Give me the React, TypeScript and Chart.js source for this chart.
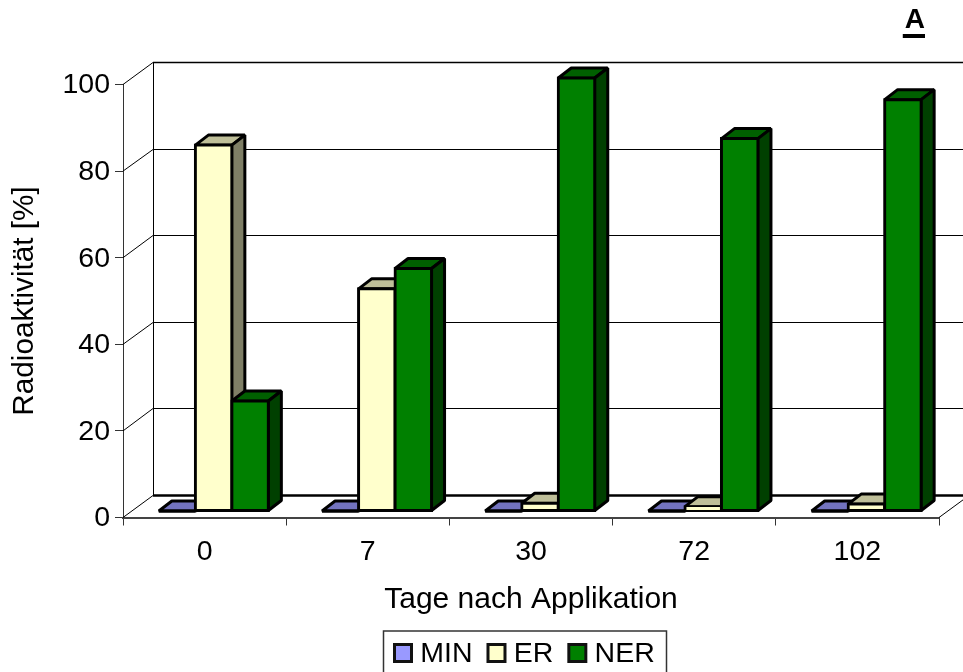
import React, { useEffect, useRef } from "react";
import { Chart, registerables } from "chart.js";

Chart.register(...registerables);

const FONT = "'Liberation Sans', Arial, sans-serif";

const categories = ["0", "7", "30", "72", "102"];
const minValues = [0, 0, 0, 0, 0];
const erValues = [84.5, 51.3, 1.8, 1, 1.6];
const nerValues = [25.4, 56, 100, 86, 95];
const seriesNames = ["MIN", "ER", "NER"];
const frontColors = ["#9999FF", "#FFFFCC", "#008000"];
const topColors = ["#7373BF", "#BFBF99", "#006000"];
const sideColors = ["#4D4D80", "#7F7F66", "#004000"];
const xTitle = "Tage nach Applikation";
const yTitle = "Radioaktivität [%]";
const panelLabel = "A";

const WALL_DX = 30;
const WALL_DY = -22;
const BAR_DX = 9;
const BAR_DY = -6.5;
const DEPTH_DX = 13;
const DEPTH_DY = -10;
const LEGEND_SIZE = 28.5;
const LEGEND_GAP = 14;

function line(ctx: any, x1: number, y1: number, x2: number, y2: number, w: number, color: string) {
  ctx.beginPath();
  ctx.moveTo(x1, y1);
  ctx.lineTo(x2, y2);
  ctx.lineWidth = w;
  ctx.strokeStyle = color;
  ctx.stroke();
}

function poly(ctx: any, pts: number[][], fill: string) {
  ctx.beginPath();
  pts.forEach((p, i) => (i ? ctx.lineTo(p[0], p[1]) : ctx.moveTo(p[0], p[1])));
  ctx.closePath();
  ctx.fillStyle = fill;
  ctx.fill();
  ctx.lineWidth = 3;
  ctx.lineJoin = "bevel";
  ctx.strokeStyle = "#000";
  ctx.stroke();
}

const box3d = {
  id: "box3d",
  afterLayout(chart: any) {
    const lg = chart.legend;
    if (lg) {
      lg.left = 393 - LEGEND_GAP;
      lg.right = 720;
      lg.top = 640 - LEGEND_GAP;
      lg.bottom = 672;
    }
    if (chart.titleBlock) chart.titleBlock.right = 925;
  },
  beforeDraw(chart: any) {
    const ctx = chart.ctx;
    ctx.save();
    ctx.strokeStyle = "#333";
    ctx.lineWidth = 1.5;
    ctx.strokeRect(383.5, 631, 283, 60);
    ctx.restore();
  },
  beforeDatasetsDraw(chart: any) {
    const ctx = chart.ctx;
    const y = chart.scales.y;
    const { left, right, bottom } = chart.chartArea;
    const bx = left + WALL_DX;
    ctx.save();
    y.ticks.forEach((t: any) => {
      const py = y.getPixelForValue(t.value);
      const wy = Math.floor(py + WALL_DY);
      const isFloor = t.value === 0;
      line(ctx, bx, wy + 0.5, chart.width + 10, wy + 0.5, isFloor ? 2.5 : t.value === 100 ? 1.5 : 1, "#000");
      line(ctx, left, py, bx, wy + 0.5, 1, "#000");
    });
    line(ctx, bx + 0.5, y.getPixelForValue(100) + WALL_DY, bx + 0.5, bottom + WALL_DY, 1, "#000");
    line(ctx, right, bottom, right + WALL_DX, bottom + WALL_DY, 1, "#000");
    ctx.restore();

    // Series run from left to right and overlap in that order: MIN first, NER last on top.
    const metas = chart.getSortedVisibleDatasetMetas().slice().sort((a: any, b: any) => a.index - b.index);
    metas.forEach((meta: any) => {
      const i = meta.index;
      ctx.save();
      ctx.translate(BAR_DX, BAR_DY);
      meta.data.forEach((el: any) => {
        const { x, y: ty, base, width } = el.getProps(["x", "y", "base", "width"]);
        const l = x - width / 2;
        const r = x + width / 2;
        poly(ctx, [[l, ty], [l + DEPTH_DX, ty + DEPTH_DY], [r + DEPTH_DX, ty + DEPTH_DY], [r, ty]], topColors[i]);
        poly(ctx, [[r, ty], [r + DEPTH_DX, ty + DEPTH_DY], [r + DEPTH_DX, base + DEPTH_DY], [r, base]], sideColors[i]);
      });
      meta.controller.draw();
      meta.data.forEach((el: any) => {
        const { x, y: ty, base, width } = el.getProps(["x", "y", "base", "width"]);
        if (Math.abs(base - ty) < 0.5) line(ctx, x - width / 2, base, x + width / 2, base, 3, "#000");
      });
      ctx.restore();
    });
    return false;
  },
  afterDraw(chart: any) {
    const ctx = chart.ctx;
    ctx.save();
    ctx.font = `${LEGEND_SIZE}px ${FONT}`;
    let x = 393;
    seriesNames.forEach((name, i) => {
      ctx.fillStyle = frontColors[i];
      ctx.fillRect(x + 1.5, 644.5, 17, 17);
      ctx.strokeStyle = "#111";
      ctx.lineWidth = 3;
      ctx.strokeRect(x + 1.5, 644.5, 17, 17);
      x += 13 + LEGEND_SIZE / 2 + ctx.measureText(name).width + LEGEND_GAP;
    });
    ctx.font = `bold 28px ${FONT}`;
    const w = ctx.measureText(panelLabel).width;
    ctx.fillStyle = "#000";
    ctx.fillRect(925 - w - 2, 34, w + 2, 4);
    ctx.restore();
  },
};

export default function App() {
  const ref = useRef<HTMLCanvasElement>(null);
  useEffect(() => {
    const barStyle = (i: number) => ({
      label: seriesNames[i],
      backgroundColor: frontColors[i],
      borderColor: "#000",
      borderWidth: 3,
      borderSkipped: false as const,
      inflateAmount: 1.5,
      categoryPercentage: 0.671,
      barPercentage: 1,
    });
    const chart = new Chart(ref.current!, {
      type: "bar",
      data: {
        labels: categories,
        datasets: [
          { ...barStyle(0), data: minValues },
          { ...barStyle(1), data: erValues },
          { ...barStyle(2), data: nerValues },
        ],
      },
      plugins: [box3d],
      options: {
        animation: false,
        responsive: false,
        devicePixelRatio: 1,
        layout: { padding: { left: 0, right: 24, top: 0, bottom: 0 } },
        font: { family: FONT, size: 28 },
        color: "#000",
        plugins: {
          tooltip: { enabled: false },
          title: {
            display: true,
            text: panelLabel,
            align: "end",
            color: "#000",
            font: { family: FONT, size: 28, weight: "bold" },
            padding: { top: 3.2, bottom: 47.7 },
          },
          legend: {
            display: true,
            position: "bottom",
            align: "start",
            maxHeight: 40,
            labels: {
              boxWidth: 13,
              boxHeight: 17,
              padding: LEGEND_GAP,
              color: "#000",
              font: { family: FONT, size: LEGEND_SIZE },
              generateLabels: (c: any) =>
                c.data.datasets.map((d: any, i: number) => ({
                  text: d.label,
                  fillStyle: "rgba(0,0,0,0)",
                  strokeStyle: "rgba(0,0,0,0)",
                  lineWidth: 0,
                  hidden: false,
                  datasetIndex: i,
                })),
            },
          },
        },
        scales: {
          x: {
            afterFit: (s: any) => {
              s.height = 114.5;
            },
            grid: { drawOnChartArea: false, drawTicks: true, tickLength: 8, color: "#333", lineWidth: 1 },
            border: { display: true, color: "#444", width: 2 },
            ticks: { color: "#000", padding: 10, maxRotation: 0, font: { family: FONT, size: 28.5 } },
            title: {
              display: true,
              text: xTitle,
              color: "#000",
              font: { family: FONT, size: 30 },
              padding: { top: 0, bottom: 14 },
            },
          },
          y: {
            min: 0,
            max: 100,
            afterFit: (s: any) => {
              s.width = 123;
            },
            grid: { drawOnChartArea: false, drawTicks: true, tickLength: 8, color: "#333", lineWidth: 1 },
            border: { display: true, color: "#333", width: 1 },
            ticks: { stepSize: 20, color: "#000", padding: 5, labelOffset: 1, font: { family: FONT, size: 28.5 } },
            title: {
              display: true,
              text: yTitle,
              color: "#000",
              font: { family: FONT, size: 29.7 },
              padding: { top: 7, bottom: 7 },
            },
          },
        },
      } as any,
    });
    return () => chart.destroy();
  }, []);
  return (
    <div style={{ position: "fixed", left: 0, top: 0, width: 963, height: 672, background: "#fff", overflow: "hidden" }}>
      <canvas ref={ref} width={963} height={672} style={{ display: "block" }} />
    </div>
  );
}
